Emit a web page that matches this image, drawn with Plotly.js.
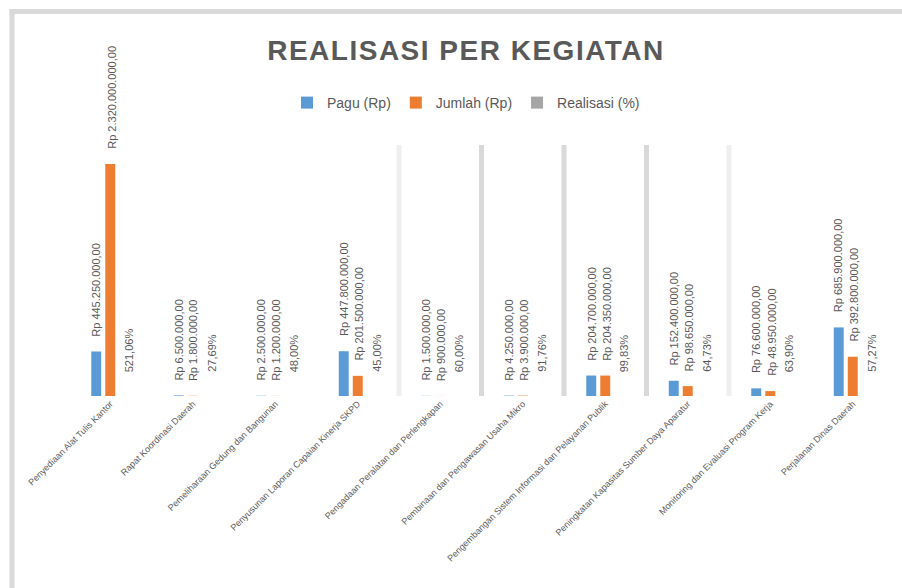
<!DOCTYPE html>
<html>
<head>
<meta charset="utf-8">
<script src="https://cdn.plot.ly/plotly-3.0.1.min.js"></script>
<style>
  html, body { margin: 0; padding: 0; background: #ffffff; }
  #chart { width: 902px; height: 588px; }
</style>
</head>
<body>
<div id="chart"></div>
<script>
// ---- data ----
const categories = [
  "Penyediaan Alat Tulis Kantor",
  "Rapat Koordinasi Daerah",
  "Pemeliharaan Gedung dan Bangunan",
  "Penyusunan Laporan Capaian Kinerja SKPD",
  "Pengadaan Peralatan dan Perlengkapan",
  "Pembinaan dan Pengawasan Usaha Mikro",
  "Pengembangan Sistem Informasi dan Pelayanan Publik",
  "Peningkatan Kapasitas Sumber Daya Aparatur",
  "Monitoring dan Evaluasi Program Kerja",
  "Perjalanan Dinas Daerah"
];
const seriesNames = ["Pagu (Rp)", "Jumlah (Rp)", "Realisasi (%)"];
const pagu = [445250000, 6500000, 2500000, 447800000, 1500000, 4250000, 204700000, 152400000, 76600000, 685900000];
const jumlah = [2320000000, 1800000, 1200000, 201500000, 900000, 3900000, 204350000, 98650000, 48950000, 392800000];
const persen = [521.06, 27.69, 48.00, 45.00, 60.00, 91.76, 99.83, 64.73, 63.90, 57.27];

// ---- formatting helpers ----
function thousands(n) {
  const s = Math.round(n).toString();
  return s.replace(/\B(?=(\d{3})+(?!\d))/g, ".");
}
function rp(n) { return "Rp " + thousands(n) + ",00"; }
function pct(n) { return n.toFixed(2).replace(".", ",") + "%"; }

const FONT = "Liberation Sans, Arial, sans-serif";
const labelFont = { family: FONT, size: 11, color: "#595959" };

const series = [
  { name: seriesNames[0], values: pagu, color: "#5b9bd5", text: pagu.map(rp), xshift: -14, yshift: 13 },
  { name: seriesNames[1], values: jumlah, color: "#ed7d31", text: jumlah.map(rp), xshift: 1, yshift: 13 },
  { name: seriesNames[2], values: persen, color: "#a5a5a5", text: persen.map(pct), xshift: 19, yshift: 22 }
];

const traces = series.map(s => ({
  type: "bar",
  name: s.name,
  x: categories,
  y: s.values,
  marker: { color: s.color },
  hoverinfo: "x+y+name"
}));

// data labels (rotated, above each bar)
const annotations = [];
series.forEach(s => {
  categories.forEach((c, i) => {
    annotations.push({
      x: c, y: s.values[i], xref: "x", yref: "y",
      text: s.text[i], textangle: -90,
      xanchor: "center", yanchor: "bottom",
      xshift: s.xshift, yshift: s.yshift,
      showarrow: false, font: labelFont
    });
  });
});

// plot area: x 69..894, y 136..396
const PL = 69, PR = 894, PT = 136, PB = 396;
const W = 902, H = 588;
function px2paperX(px) { return (px - PL) / (PR - PL); }
function px2paperY(py) { return (PB - py) / (PB - PT); }

const border = "#d9d9d9";
const shapes = [
  { type: "line", xref: "paper", yref: "paper", x0: px2paperX(12), x1: px2paperX(12), y0: px2paperY(9), y1: px2paperY(600), line: { color: border, width: 5 }, layer: "below" },
  { type: "line", xref: "paper", yref: "paper", x0: px2paperX(9.5), x1: px2paperX(910), y0: px2paperY(11.5), y1: px2paperY(11.5), line: { color: border, width: 5 }, layer: "below" }
];
const sepColors = ["#efefef", "#d9d9d9", "#d9d9d9", "#d9d9d9", "#efefef"];
[3.5, 4.5, 5.5, 6.5, 7.5].forEach((b, i) => {
  shapes.push({ type: "line", xref: "x", yref: "paper", x0: b, x1: b, y0: 0, y1: px2paperY(145),
    line: { color: sepColors[i], width: 5 }, layer: "below" });
});

const layout = {
  width: W, height: H,
  paper_bgcolor: "#ffffff", plot_bgcolor: "#ffffff",
  margin: { l: PL, r: W - PR, t: PT, b: H - PB, pad: 0 },
  title: {
    text: "REALISASI PER KEGIATAN",
    font: { family: "Liberation Sans, sans-serif", size: 28, color: "#595959", weight: "bold" },
    xref: "container", yref: "container",
    x: 466 / W, xanchor: "center",
    y: 1 - 50 / H, yanchor: "middle"
  },
  showlegend: true,
  legend: {
    orientation: "h",
    x: px2paperX(466), xanchor: "center",
    y: px2paperY(103), yanchor: "middle",
    font: { family: FONT, size: 14, color: "#595959" },
    itemwidth: 30,
    traceorder: "normal"
  },
  barmode: "group",
  bargap: 0.49,
  bargroupgap: 0.29,
  xaxis: {
    type: "category",
    showgrid: false, zeroline: false, showline: false,
    ticks: "",
    tickangle: -45,
    tickfont: { family: FONT, size: 9, color: "#595959" },
    automargin: false
  },
  yaxis: {
    visible: false,
    range: [0, 2600000000],
    showgrid: false, zeroline: false
  },
  shapes: shapes,
  annotations: annotations
};

Plotly.newPlot("chart", traces, layout, { displayModeBar: false, staticPlot: true }).then(gd => {
  const t = gd.querySelector(".gtitle");
  if (t) t.style.letterSpacing = "1.5px";
});
</script>
</body>
</html>
